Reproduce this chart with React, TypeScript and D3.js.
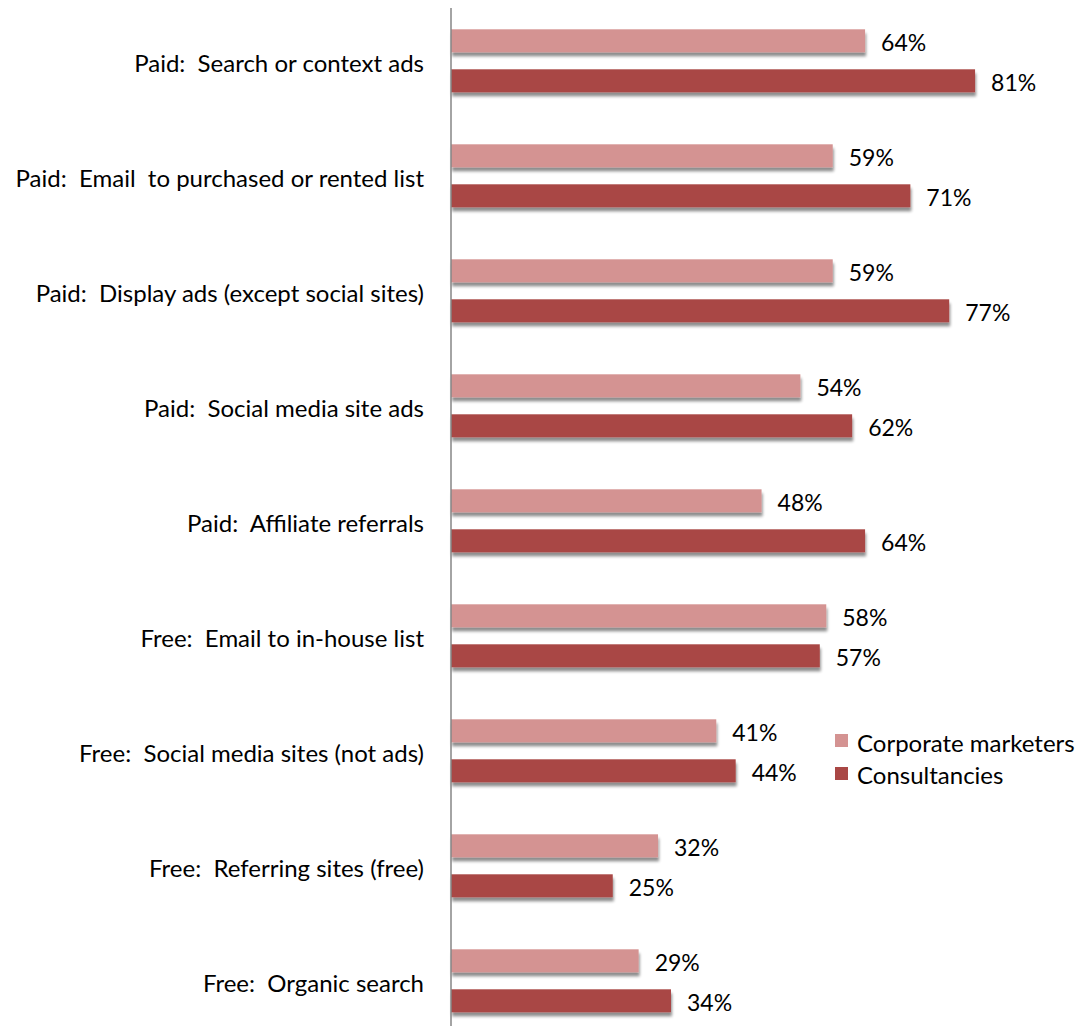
import React from "react";
import * as d3 from "d3";

const categories = [
  "Paid:  Search or context ads",
  "Paid:  Email  to purchased or rented list",
  "Paid:  Display ads (except social sites)",
  "Paid:  Social media site ads",
  "Paid:  Affiliate referrals",
  "Free:  Email to in-house list",
  "Free:  Social media sites (not ads)",
  "Free:  Referring sites (free)",
  "Free:  Organic search",
];
const corporate = [64, 59, 59, 54, 48, 58, 41, 32, 29];
const consultancies = [81, 71, 77, 62, 64, 57, 44, 25, 34];
const seriesNames = ["Corporate marketers", "Consultancies"];
const colors = ["#D49392", "#A94745"];

const W = 1086;
const H = 1034;
const FONT = "Lato, 'Open Sans', sans-serif";

export default function App() {
  const x = d3.scaleLinear().domain([0, 100]).range([451, 1098]);
  const y = d3.scaleBand().domain(categories).range([3, 1038]);
  const inner = d3.scaleBand().domain(["0", "1"]).range([26.3, 89.3]).paddingInner(0.425);
  const series = [corporate, consultancies];
  return (
    <div style={{ margin: -8 }}>
      <svg width={W} height={H} style={{ display: "block", background: "#fff" }}>
        <defs>
          <filter id="sh" x="-5%" y="-50%" width="110%" height="220%">
            <feGaussianBlur in="SourceAlpha" stdDeviation="1.6" />
            <feOffset dx="1" dy="3.5" result="ob" />
            <feComponentTransfer>
              <feFuncA type="linear" slope="0.45" />
            </feComponentTransfer>
            <feMerge>
              <feMergeNode />
              <feMergeNode in="SourceGraphic" />
            </feMerge>
          </filter>
        </defs>
        {categories.map((c, i) => (
          <g key={c}>
            <text
              x={424}
              y={(y(c) as number) + y.bandwidth() / 2 + 1.5}
              textAnchor="end"
              dominantBaseline="central"
              fontFamily={FONT}
              fontSize={24}
              fill="#000"
              style={{ whiteSpace: "pre" }}
            >
              {c}
            </text>
            {series.map((s, k) => {
              const by = (y(c) as number) + (inner(String(k)) as number);
              const bh = inner.bandwidth();
              return (
                <g key={k}>
                  <rect
                    x={x(0)}
                    y={by}
                    width={x(s[i]) - x(0)}
                    height={bh}
                    fill={colors[k]}
                    filter="url(#sh)"
                  />
                  <text
                    x={x(s[i]) + 16}
                    y={by + bh / 2 + 1.5}
                    dominantBaseline="central"
                    fontFamily={FONT}
                    fontSize={23}
                    fill="#000"
                  >
                    {s[i]}%
                  </text>
                </g>
              );
            })}
          </g>
        ))}
        <line x1={451} x2={451} y1={5} y2={H} stroke="#868686" strokeWidth={1.5} />
        {seriesNames.map((n, k) => (
          <g key={n}>
            <rect x={835} y={734 + k * 33} width={13} height={13} fill={colors[k]} />
            <text
              x={857}
              y={742 + k * 32}
              dominantBaseline="central"
              fontFamily={FONT}
              fontSize={24}
              fill="#000"
            >
              {n}
            </text>
          </g>
        ))}
      </svg>
    </div>
  );
}
